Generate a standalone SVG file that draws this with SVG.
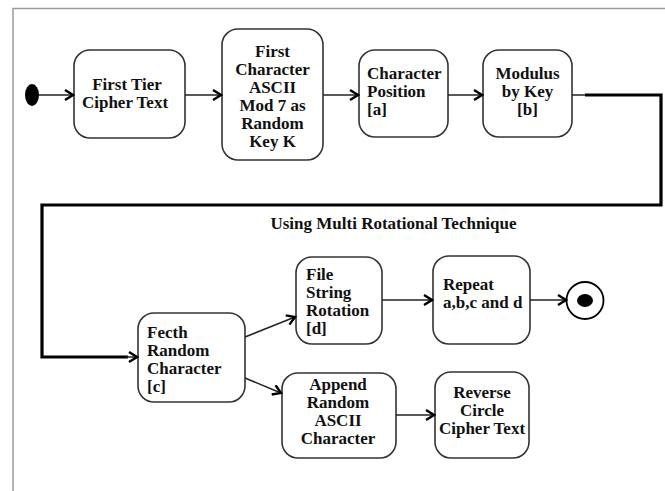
<svg xmlns="http://www.w3.org/2000/svg" width="665" height="491" viewBox="0 0 665 491">
  <style>
    .frame { fill: none; stroke: #9a9a9a; stroke-width: 1.5; }
    .node rect { fill: #fff; stroke: #333; stroke-width: 1.6; }
    .node text, .caption { font-family: "Liberation Serif", "Times New Roman", serif; font-weight: bold; font-size: 17px; fill: #111; }
    .c { text-anchor: middle; }
    .flow { fill: none; stroke: #222; stroke-width: 1.5; }
    .flow-heavy { fill: none; stroke: #000; stroke-width: 3.2; }
  </style>
  <defs>
    <marker id="arrow" viewBox="0 0 12 12" refX="10" refY="6" markerWidth="12" markerHeight="12" markerUnits="userSpaceOnUse" orient="auto">
      <polyline points="2,1 10,6 2,11" fill="none" stroke="#000" stroke-width="2.4"/>
    </marker>
  </defs>

  <rect width="665" height="491" fill="#fff"/>
  <!-- outer frame -->
  <polyline class="frame" points="13,491 13,8.5 665,8.5"/>

  <!-- start / end -->
  <g id="start">
    <ellipse cx="32" cy="95" rx="7" ry="11" fill="#000"/>
  </g>
  <g id="end">
    <circle cx="585" cy="300.5" r="18.5" fill="#fff" stroke="#000" stroke-width="1.8"/>
    <ellipse cx="585" cy="300.5" rx="8" ry="6.5" fill="#000"/>
  </g>

  <g id="first-tier" class="node">
    <rect x="74" y="50" width="111" height="88" rx="16"/>
    <text class="c" x="127" y="90">First Tier</text>
    <text class="c" x="125" y="108">Cipher Text</text>
  </g>

  <g id="random-key" class="node">
    <rect x="222" y="29" width="101" height="131" rx="16"/>
    <text class="c" x="272.5" y="57">First</text>
    <text class="c" x="272.5" y="75">Character</text>
    <text class="c" x="272.5" y="93">ASCII</text>
    <text class="c" x="272.5" y="111">Mod 7 as</text>
    <text class="c" x="272.5" y="129">Random</text>
    <text class="c" x="272.5" y="147">Key K</text>
  </g>

  <g id="char-position" class="node">
    <rect x="359" y="50" width="89" height="87" rx="16"/>
    <text x="367" y="79">Character</text>
    <text x="367" y="97">Position</text>
    <text x="367" y="115">[a]</text>
  </g>

  <g id="modulus" class="node">
    <rect x="483" y="50" width="89" height="87" rx="16"/>
    <text class="c" x="527.5" y="79">Modulus</text>
    <text class="c" x="527.5" y="97">by Key</text>
    <text class="c" x="527.5" y="115">[b]</text>
  </g>

  <text class="caption c" x="393.5" y="229">Using Multi Rotational Technique</text>

  <g id="fetch-random" class="node">
    <rect x="138" y="313" width="107" height="89" rx="16"/>
    <text x="147" y="338">Fecth</text>
    <text x="147" y="356">Random</text>
    <text x="147" y="374">Character</text>
    <text x="147" y="392">[c]</text>
  </g>

  <g id="string-rotation" class="node">
    <rect x="296" y="257" width="86" height="87" rx="16"/>
    <text x="306" y="280">File</text>
    <text x="306" y="298">String</text>
    <text x="306" y="316">Rotation</text>
    <text x="306" y="334">[d]</text>
  </g>

  <g id="append-ascii" class="node">
    <rect x="282" y="373" width="114" height="85" rx="16"/>
    <text class="c" x="338" y="390">Append</text>
    <text class="c" x="338" y="408">Random</text>
    <text class="c" x="338" y="426">ASCII</text>
    <text class="c" x="338" y="444">Character</text>
  </g>

  <g id="repeat" class="node">
    <rect x="433" y="256" width="97" height="88" rx="16"/>
    <text x="443" y="290">Repeat</text>
    <text x="443" y="308">a,b,c and d</text>
  </g>

  <g id="reverse-circle" class="node">
    <rect x="435" y="372" width="94" height="86" rx="16"/>
    <text class="c" x="482" y="398">Reverse</text>
    <text class="c" x="482" y="416">Circle</text>
    <text class="c" x="482" y="434">Cipher Text</text>
  </g>

  <!-- connectors -->
  <g id="connectors">
    <line class="flow" x1="39" y1="95" x2="73" y2="95" marker-end="url(#arrow)"/>
    <line class="flow" x1="185" y1="95" x2="221" y2="95" marker-end="url(#arrow)"/>
    <line class="flow" x1="323" y1="95" x2="358" y2="95" marker-end="url(#arrow)"/>
    <line class="flow" x1="448" y1="95" x2="482" y2="95" marker-end="url(#arrow)"/>
    <line class="flow" x1="572" y1="95" x2="586" y2="95"/>
    <polyline class="flow-heavy" points="585,95 661,95 661,205 42,205 42,357 128,357"/>
    <line class="flow" x1="126" y1="357" x2="137" y2="357" marker-end="url(#arrow)"/>
    <line class="flow" x1="245" y1="337" x2="295" y2="317" marker-end="url(#arrow)"/>
    <line class="flow" x1="245" y1="378" x2="281" y2="393" marker-end="url(#arrow)"/>
    <line class="flow" x1="382" y1="300" x2="432" y2="300" marker-end="url(#arrow)"/>
    <line class="flow" x1="530" y1="300" x2="566" y2="300" marker-end="url(#arrow)"/>
    <line class="flow" x1="396" y1="415" x2="434" y2="415" marker-end="url(#arrow)"/>
  </g>
</svg>
